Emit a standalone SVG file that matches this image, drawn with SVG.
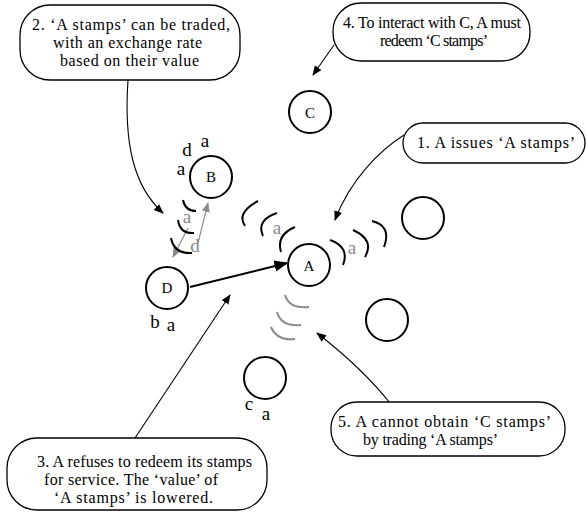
<svg xmlns="http://www.w3.org/2000/svg" width="586" height="513" viewBox="0 0 586 513">
<style>
text{font-family:'Liberation Serif','Times New Roman',serif;fill:#000}
.box{fill:#fff;stroke:#000;stroke-width:1.3}
.node{fill:#fff;stroke:#000;stroke-width:2}
.lbl{font-size:16px}
.nl{font-size:15px;text-anchor:middle}
.sm{font-size:19px;text-anchor:middle}
.g{fill:#8a8a8a}
.arc{fill:none;stroke:#000;stroke-width:2}
.garc{fill:none;stroke:#8a8a8a;stroke-width:2}
.con{fill:none;stroke:#000;stroke-width:1.1}
</style>
<defs>
<marker id="ah" viewBox="0 0 10 10" refX="9" refY="5" markerWidth="10" markerHeight="10" markerUnits="userSpaceOnUse" orient="auto"><path d="M0,1 L10,5 L0,9 Z" fill="#000"/></marker>
<marker id="ahb" viewBox="0 0 10 10" refX="9" refY="5" markerWidth="14" markerHeight="14" markerUnits="userSpaceOnUse" orient="auto"><path d="M0,1 L10,5 L0,9 Z" fill="#000"/></marker>
<marker id="ahg" viewBox="0 0 10 10" refX="9" refY="5" markerWidth="10" markerHeight="10" markerUnits="userSpaceOnUse" orient="auto"><path d="M0,1 L10,5 L0,9 Z" fill="#8a8a8a"/></marker>
</defs>

<g id="connectors">
<path class="con" d="M128,80 C124,140 132,185 163,213" marker-end="url(#ah)"/>
<path class="con" d="M334,45 L313,75" marker-end="url(#ah)"/>
<path class="con" d="M404,135 C380,150 350,180 335,220" marker-end="url(#ah)"/>
<path class="con" d="M390,403 Q362,368 317,333" marker-end="url(#ah)"/>
<path class="con" d="M135,438 L230,295" marker-end="url(#ah)"/>
<path d="M190,287 L287,263" fill="none" stroke="#000" stroke-width="2" marker-end="url(#ahb)"/>
<path d="M198,243 L208,203" fill="none" stroke="#8a8a8a" stroke-width="1.2" marker-end="url(#ahg)"/>
<path d="M188,228 L173,257" fill="none" stroke="#8a8a8a" stroke-width="1.2" marker-end="url(#ahg)"/>
</g>

<g id="arcs">
<path class="arc" d="M183,200 Q185,211 196,211"/>
<path class="arc" d="M178,220 Q180,234 194,233"/>
<path class="arc" d="M171,238 Q174,254 192,253"/>
<path class="arc" d="M258,201 Q236,213 245,226"/>
<path class="arc" d="M277,213 Q256,220 263,236"/>
<path class="arc" d="M295,227 Q276,235 281,252"/>
<path class="arc" d="M330,240 Q350,247 343,265"/>
<path class="arc" d="M353,230 Q375,240 365,257"/>
<path class="arc" d="M372,221 Q392,226 384,247"/>
<path class="garc" d="M285,295 Q289,309 309,307"/>
<path class="garc" d="M277,312 Q281,327 301,325"/>
<path class="garc" d="M271,327 Q277,341 295,339"/>
</g>

<g id="box2">
<rect class="box" x="20" y="5" width="220" height="75" rx="30" ry="30"/>
<text class="lbl" x="32" y="30" textLength="198" lengthAdjust="spacing">2. ‘A stamps’ can be traded,</text>
<text class="lbl" x="53" y="48" textLength="149" lengthAdjust="spacing">with an exchange rate</text>
<text class="lbl" x="60" y="66" textLength="139" lengthAdjust="spacing">based on their value</text>
</g>
<g id="box4">
<rect class="box" x="333" y="3" width="197" height="58" rx="28" ry="28"/>
<text class="lbl" x="343" y="28" textLength="178" lengthAdjust="spacing">4. To interact with C, A must</text>
<text class="lbl" x="380" y="46" textLength="108" lengthAdjust="spacing">redeem ‘C stamps’</text>
</g>
<g id="box1">
<rect class="box" x="403" y="123" width="182" height="40" rx="20" ry="20"/>
<text class="lbl" x="417" y="148" textLength="158" lengthAdjust="spacing">1. A issues ‘A stamps’</text>
</g>
<g id="box5">
<rect class="box" x="331" y="402" width="234" height="54" rx="26" ry="26"/>
<text class="lbl" x="338" y="427" textLength="213" lengthAdjust="spacing">5. A cannot obtain ‘C stamps’</text>
<text class="lbl" x="363" y="445" textLength="135" lengthAdjust="spacing">by trading ‘A stamps’</text>
</g>
<g id="box3">
<rect class="box" x="7" y="438" width="260" height="72" rx="30" ry="30"/>
<text class="lbl" x="37" y="467" textLength="215" lengthAdjust="spacing">3. A refuses to redeem its stamps</text>
<text class="lbl" x="44" y="485" textLength="174" lengthAdjust="spacing">for service. The ‘value’ of</text>
<text class="lbl" x="54" y="503" textLength="159" lengthAdjust="spacing">‘A stamps’ is lowered.</text>
</g>

<g id="nodeC"><circle class="node" cx="310" cy="112" r="21"/><text class="nl" x="310" y="118">C</text></g>
<g id="nodeB"><circle class="node" cx="211" cy="177" r="21"/><text class="nl" x="211" y="182">B</text>
<text class="sm" x="187" y="156">d</text>
<text class="sm" x="205" y="147">a</text>
<text class="sm" x="181" y="175">a</text>
<text class="sm g" x="187" y="223">a</text>
<text class="sm g" x="195" y="252">d</text>
</g>
<g id="nodeA"><circle class="node" cx="309" cy="265" r="21"/><text class="nl" x="309" y="271">A</text>
<text class="sm g" x="277" y="234">a</text>
<text class="sm g" x="352" y="254">a</text>
</g>
<g id="nodeD"><circle class="node" cx="167" cy="288" r="21"/><text class="nl" x="167" y="293">D</text>
<text class="sm" x="155" y="328">b</text>
<text class="sm" x="171" y="331">a</text>
</g>
<g id="nodeE"><circle class="node" cx="423" cy="218" r="21"/></g>
<g id="nodeF"><circle class="node" cx="387" cy="320" r="21"/></g>
<g id="nodeG"><circle class="node" cx="265" cy="378" r="21"/>
<text class="sm" x="249" y="410">c</text>
<text class="sm" x="266" y="420">a</text>
</g>
</svg>
